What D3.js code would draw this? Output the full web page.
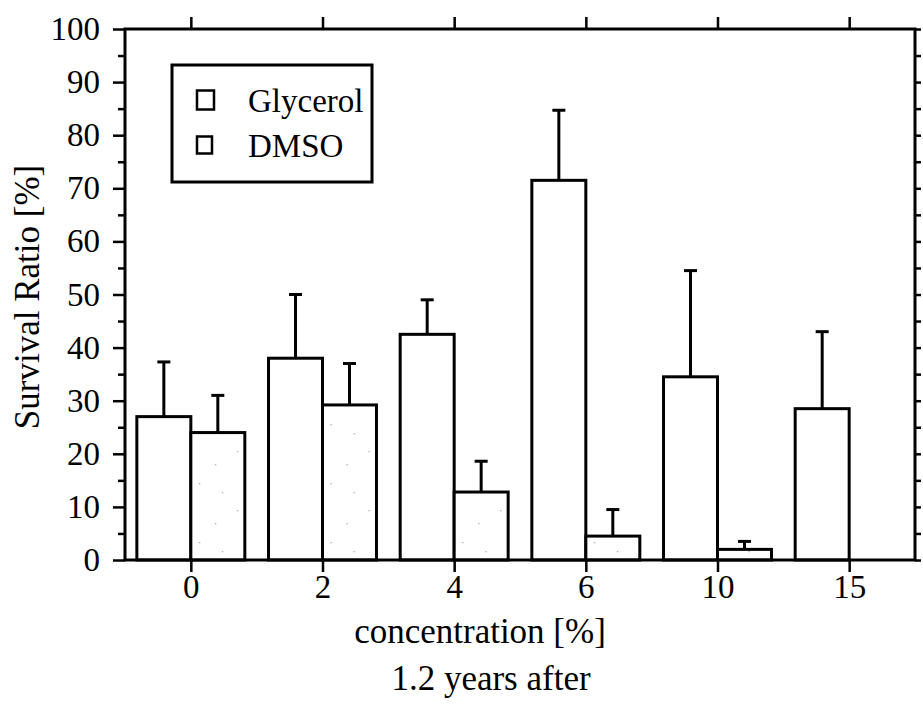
<!DOCTYPE html>
<html>
<head>
<meta charset="utf-8">
<script src="https://cdn.jsdelivr.net/npm/d3@7"></script>
<style>
  body { margin: 0; background: #fff; }
  svg { display: block; font-family: "Liberation Serif", "Times New Roman", serif; }
</style>
</head>
<body>
<div id="chart"></div>
<script>
// concentration groups (x axis)
const categories = ["0", "2", "4", "6", "10", "15"];
const seriesNames = ["Glycerol", "DMSO"];

// survival ratio [%] and error (upper bar length)
const glycerol = [27, 38, 42.5, 71.5, 34.5, 28.5];
const glycerolErr = [10.3, 12, 6.5, 13.2, 20, 14.5];
const dmso = [24, 29.2, 12.8, 4.5, 2, 0];
const dmsoErr = [7, 7.8, 5.8, 5, 1.5, 0];

const yMajorTicks = [0, 10, 20, 30, 40, 50, 60, 70, 80, 90, 100];
const yMinorTicks = [5, 15, 25, 35, 45, 55, 65, 75, 85, 95];

const width = 923, height = 708;
const margin = { top: 29, right: 8, bottom: 148, left: 125 };
const innerW = width - margin.left - margin.right;
const innerH = height - margin.top - margin.bottom;

const svg = d3.select("#chart").append("svg")
  .attr("width", width)
  .attr("height", height);

// sparse speckle used for the DMSO bars
const defs = svg.append("defs");
const pat = defs.append("pattern")
  .attr("id", "speckle")
  .attr("patternUnits", "userSpaceOnUse")
  .attr("width", 47).attr("height", 59);
pat.append("rect").attr("width", 47).attr("height", 59).attr("fill", "#fff");
[[6, 9], [31, 22], [15, 41], [38, 50]].forEach(p => {
  pat.append("rect").attr("x", p[0]).attr("y", p[1])
    .attr("width", 1.3).attr("height", 1.3).attr("fill", "#aaa");
});

const g = svg.append("g").attr("transform", `translate(${margin.left},${margin.top})`);

const x0 = d3.scaleBand()
  .domain(categories)
  .range([0, innerW])
  .paddingInner(0.18)
  .paddingOuter(0.09);

const x1 = d3.scaleBand()
  .domain(seriesNames)
  .range([0, x0.bandwidth()]);

const y = d3.scaleLinear().domain([0, 100]).range([innerH, 0]);

const rows = categories.map((c, i) => ({
  cat: c,
  values: [
    { key: "Glycerol", v: glycerol[i], e: glycerolErr[i] },
    { key: "DMSO", v: dmso[i], e: dmsoErr[i] }
  ]
}));

const fills = { Glycerol: "#fff", DMSO: "url(#speckle)" };

const groups = g.append("g").attr("class", "bars")
  .selectAll("g")
  .data(rows)
  .join("g")
  .attr("transform", d => `translate(${x0(d.cat)},0)`);

// bars (skip empty ones)
groups.selectAll("rect")
  .data(d => d.values.filter(v => v.v > 0))
  .join("rect")
  .attr("x", d => x1(d.key))
  .attr("y", d => y(d.v))
  .attr("width", x1.bandwidth())
  .attr("height", d => y(0) - y(d.v))
  .attr("fill", d => fills[d.key])
  .attr("stroke", "#000")
  .attr("stroke-width", 3);

// upper error bars
const capW = 13;
const errs = groups.selectAll("g.err")
  .data(d => d.values.filter(v => v.e > 0))
  .join("g")
  .attr("class", "err")
  .attr("stroke", "#000")
  .attr("stroke-width", 3);

errs.append("line")
  .attr("x1", d => x1(d.key) + x1.bandwidth() / 2)
  .attr("x2", d => x1(d.key) + x1.bandwidth() / 2)
  .attr("y1", d => y(d.v))
  .attr("y2", d => y(d.v + d.e));

errs.append("line")
  .attr("x1", d => x1(d.key) + x1.bandwidth() / 2 - capW / 2)
  .attr("x2", d => x1(d.key) + x1.bandwidth() / 2 + capW / 2)
  .attr("y1", d => y(d.v + d.e))
  .attr("y2", d => y(d.v + d.e));

// axes
const center = c => x0(c) + x0.bandwidth() / 2;
const xTickScale = d3.scalePoint().domain(categories).range([center(categories[0]), center(categories[categories.length - 1])]);

const styleAxis = sel => {
  sel.select(".domain").remove();
  sel.selectAll(".tick line").attr("stroke", "#000").attr("stroke-width", 2.5);
  sel.selectAll(".tick text").attr("fill", "#000").style("font-family", "Liberation Serif, serif");
};

g.append("g")
  .attr("transform", `translate(0,${innerH})`)
  .call(d3.axisBottom(xTickScale).tickSize(12).tickPadding(3).tickSizeOuter(0))
  .call(styleAxis)
  .selectAll("text").style("font-size", "33px");

g.append("g")
  .call(d3.axisTop(xTickScale).tickSize(12).tickFormat("").tickSizeOuter(0))
  .call(styleAxis);

g.append("g")
  .call(d3.axisLeft(y).tickValues(yMajorTicks).tickSize(12).tickPadding(13).tickSizeOuter(0))
  .call(styleAxis)
  .selectAll("text").style("font-size", "33px");

g.append("g")
  .call(d3.axisLeft(y).tickValues(yMinorTicks).tickSize(7).tickFormat("").tickSizeOuter(0))
  .call(styleAxis);

g.append("g")
  .attr("transform", `translate(${innerW},0)`)
  .call(d3.axisRight(y).tickValues(yMajorTicks.concat(yMinorTicks)).tickSize(6).tickFormat("").tickSizeOuter(0))
  .call(styleAxis);

// frame
g.append("rect")
  .attr("width", innerW)
  .attr("height", innerH)
  .attr("fill", "none")
  .attr("stroke", "#000")
  .attr("stroke-width", 3);

// titles
svg.append("text")
  .attr("x", 480)
  .attr("y", 643)
  .attr("text-anchor", "middle")
  .style("font-size", "35px")
  .text("concentration [%]");

svg.append("text")
  .attr("x", 491)
  .attr("y", 690)
  .attr("text-anchor", "middle")
  .style("font-size", "35px")
  .text("1.2 years after");

svg.append("text")
  .attr("transform", `translate(39,${297}) rotate(-90)`)
  .attr("text-anchor", "middle")
  .style("font-size", "35px")
  .text("Survival Ratio [%]");

// legend
const legend = svg.append("g");
legend.append("rect")
  .attr("x", 172).attr("y", 65)
  .attr("width", 200).attr("height", 117)
  .attr("fill", "#fff")
  .attr("stroke", "#000")
  .attr("stroke-width", 3);

const legItems = [
  { name: seriesNames[0], sw: 17, sh: 19, cy: 100, fill: "#fff" },
  { name: seriesNames[1], sw: 15, sh: 17, cy: 145, fill: "#fff" }
];
legItems.forEach(it => {
  legend.append("rect")
    .attr("x", 197).attr("y", it.cy - it.sh / 2)
    .attr("width", it.sw).attr("height", it.sh)
    .attr("fill", it.fill)
    .attr("stroke", "#000")
    .attr("stroke-width", 2.5);
  legend.append("text")
    .attr("x", 248).attr("y", it.cy + 12)
    .style("font-size", "33px")
    .text(it.name);
});
</script>
</body>
</html>
